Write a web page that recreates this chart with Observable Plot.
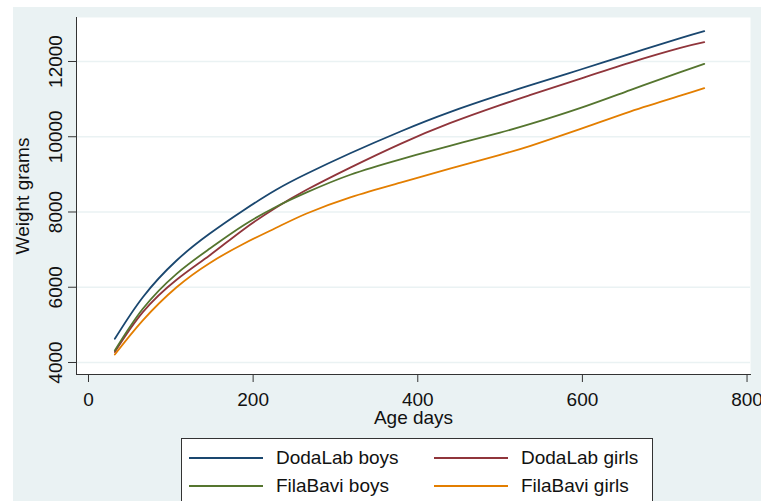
<!DOCTYPE html>
<html><head><meta charset="utf-8">
<script src="https://cdn.jsdelivr.net/npm/d3@7"></script>
<script src="https://cdn.jsdelivr.net/npm/@observablehq/plot@0.6"></script>
<style>
html,body{margin:0;padding:0;background:#fff;overflow:hidden;width:761px;height:501px;}
#bg{position:absolute;left:13px;top:7px;width:748px;height:494px;background:#eaf2f3;}
#chart{position:absolute;left:0;top:0;}
#legend{position:absolute;left:181px;top:438px;width:470px;height:80px;background:#fff;border:1px solid #333;font-family:"Liberation Sans",Arial,sans-serif;font-size:19px;color:#111;}
.item{position:absolute;display:flex;align-items:center;height:22px;line-height:22px;}
.swatch{width:74px;height:2px;margin-right:13px;}
</style></head><body>
<div id="bg"></div><div id="chart"></div><div id="legend"></div>
<script>
const ages = [32, 66, 107, 147, 188, 228, 265, 318, 379, 439, 500, 537, 597, 658, 719, 748];
const dodaLabBoys  = [4630, 5736, 6711, 7420, 8040, 8590, 9015, 9560, 10140, 10654, 11110, 11370, 11780, 12204, 12620, 12806];
const dodaLabGirls = [4280, 5337, 6198, 6844, 7530, 8120, 8590, 9180, 9812, 10360, 10840, 11110, 11540, 11970, 12360, 12514];
const filaBaviBoys = [4319, 5427, 6357, 7022, 7641, 8140, 8520, 8990, 9400, 9760, 10110, 10340, 10760, 11240, 11717, 11938];
const filaBaviGirls= [4213, 5120, 6000, 6640, 7150, 7580, 7960, 8390, 8780, 9150, 9520, 9760, 10200, 10670, 11090, 11291];
const seriesNames = ["DodaLab boys", "DodaLab girls", "FilaBavi boys", "FilaBavi girls"];
const seriesColors = ["#1a476f", "#90353b", "#55752f", "#e37e00"];
const xTicks = [0, 200, 400, 600, 800];
const yTicks = [4000, 6000, 8000, 10000, 12000];

const seriesValues = [dodaLabBoys, dodaLabGirls, filaBaviBoys, filaBaviGirls];
const data = seriesNames.flatMap((name, i) => ages.map((a, j) => ({name, age: a, weight: seriesValues[i][j]})));

const chart = Plot.plot({
  width: 761, height: 435,
  marginLeft: 76, marginRight: 11, marginTop: 17, marginBottom: 61,
  style: {background: "transparent", fontFamily: "Liberation Sans, Arial, sans-serif", fontSize: "19px", color: "#111"},
  x: {domain: [-14.57, 804.2], label: null},
  y: {domain: [3681, 13169], label: null},
  color: {domain: seriesNames, range: seriesColors},
  marks: [
    Plot.frame({fill: "white", stroke: null}),
    Plot.gridY(yTicks, {stroke: "#eaf2f3", strokeOpacity: 1, strokeWidth: 1.5}),
    Plot.line(data, {x: "age", y: "weight", stroke: "name", strokeWidth: 1.8, curve: "natural"}),
    Plot.frame({anchor: "left", stroke: "#333"}),
    Plot.frame({anchor: "bottom", stroke: "#333"}),
    Plot.axisY(yTicks, {tickSize: 8, tickFormat: () => "", label: null, stroke: "#333"}),
    Plot.text(yTicks, {y: d => d, text: d => String(d), frameAnchor: "left", dx: -21, rotate: -90, textAnchor: "middle", lineAnchor: "middle", fontSize: 19, fill: "#111"}),
    Plot.axisX(xTicks, {tickSize: 8, tickPadding: 10, fontSize: 19, label: null, stroke: "#333", fill: "#111"}),
    Plot.text(["Weight grams"], {frameAnchor: "left", dx: -54, rotate: -90, textAnchor: "middle", lineAnchor: "middle", fontSize: 19, fill: "#111"}),
    Plot.text(["Age days"], {frameAnchor: "bottom", dy: 43, textAnchor: "middle", lineAnchor: "middle", fontSize: 19, fill: "#111"})
  ]
});
document.getElementById("chart").appendChild(chart);

const legend = document.getElementById("legend");
const pos = [[7, 8], [252, 8], [7, 36], [252, 36]];
seriesNames.forEach((name, i) => {
  const it = document.createElement("div");
  it.className = "item";
  it.style.left = pos[i][0] + "px";
  it.style.top = pos[i][1] + "px";
  const sw = document.createElement("span");
  sw.className = "swatch";
  sw.style.background = seriesColors[i];
  const tx = document.createElement("span");
  tx.textContent = name;
  it.appendChild(sw); it.appendChild(tx);
  legend.appendChild(it);
});
</script>
</body></html>
